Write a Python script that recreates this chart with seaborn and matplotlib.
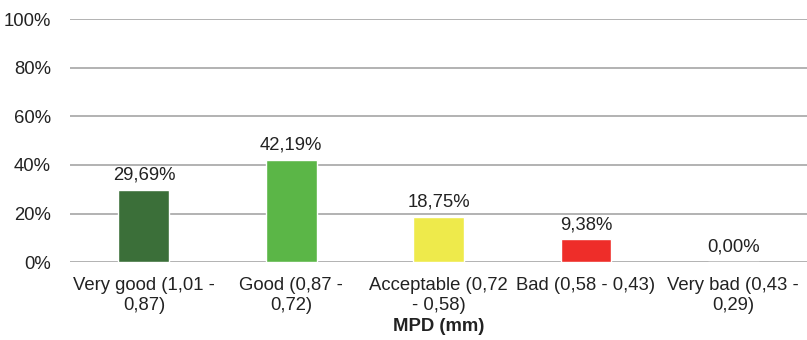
import pandas as pd
import seaborn as sns
import matplotlib.pyplot as plt

# Chart data
categories = ["Very good (1,01 -\n0,87)", "Good (0,87 -\n0,72)", "Acceptable (0,72\n- 0,58)",
              "Bad (0,58 - 0,43)", "Very bad (0,43 -\n0,29)"]
values = [29.69, 42.19, 18.75, 9.38, 0.00]
colors = ["#3B6F39", "#5BB647", "#EEEA4B", "#EE2D29", "#A0A0A0"]

df = pd.DataFrame({"category": categories, "percent": values})

sns.set_theme(style="white")
plt.rcParams["font.family"] = ["Liberation Sans", "DejaVu Sans"]

fig = plt.figure(figsize=(8.07, 3.4), dpi=100)
ax = fig.add_axes([0.087, 0.229, 0.913, 0.715])

sns.barplot(data=df, x="category", y="percent", hue="category", palette=colors,
            width=0.345, legend=False, ax=ax, saturation=1)

fs = 13.3
ax.set_ylim(0, 100)
ax.set_yticks(range(0, 101, 20))
ax.set_yticklabels([f"{v}%" for v in range(0, 101, 20)], fontsize=fs, color="#222222")
ax.tick_params(axis="x", labelsize=fs, colors="#222222", length=0, pad=11)
ax.tick_params(axis="y", length=0, pad=14)
ax.set_xlim(-0.5, 4.5)

ax.yaxis.grid(True, color="#A6A6A6", linewidth=1.2)
ax.set_axisbelow(True)
for s in ax.spines.values():
    s.set_visible(False)

for i, v in enumerate(values):
    ax.annotate(f"{v:.2f}%".replace(".", ","), (i, v), xytext=(0, 4.5),
                textcoords="offset points", ha="center", va="bottom",
                fontsize=fs, color="#222222")

ax.set_ylabel("")
ax.set_xlabel("MPD (mm)", fontsize=fs, fontweight="bold", color="#222222", labelpad=3)

fig.savefig("out.png", dpi=100)
